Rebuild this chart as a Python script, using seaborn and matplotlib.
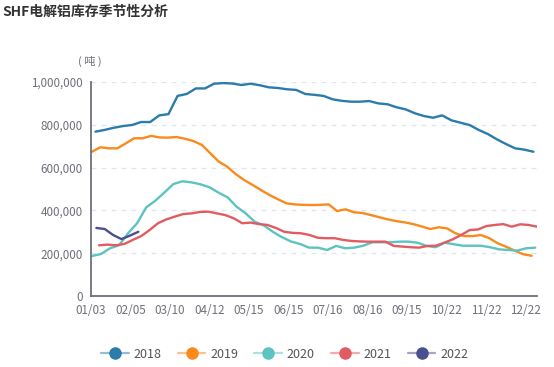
import numpy as np
import pandas as pd
import seaborn as sns
import matplotlib.pyplot as plt
from matplotlib.lines import Line2D
from matplotlib.ticker import FuncFormatter

# SHF aluminium stock, weekly, in thousand tonnes
years = ['2018', '2019', '2020', '2021', '2022']
colors = ['#2b7bab', '#f98a1d', '#5cc3c1', '#e15c60', '#4a4f8e']
date_labels = ['01/03', '02/05', '03/10', '04/12', '05/15', '06/15',
               '07/16', '08/16', '09/15', '10/22', '11/22', '12/22']

s2018 = [768, 776, 786, 794, 799, 813, 813, 844, 850, 935, 944, 970, 970, 992,
         995, 993, 986, 992, 985, 975, 972, 966, 963, 944, 940, 935, 919, 912,
         908, 908, 911, 900, 896, 882, 872, 854, 841, 833, 844, 821, 810, 799,
         776, 757, 732, 710, 690, 684, 674]
s2019 = [674, 695, 690, 690, 713, 737, 737, 748, 741, 740, 743, 735, 724, 706,
         667, 628, 604, 570, 542, 519, 495, 472, 452, 433, 428, 426, 425, 426,
         428, 397, 405, 391, 388, 378, 368, 358, 350, 344, 336, 325, 313, 321,
         316, 293, 280, 280, 285, 270, 246, 230, 212, 195, 188]
s2020 = [187, 196, 223, 237, 293, 340, 414, 445, 483, 523, 536, 531, 522, 508,
         483, 461, 417, 386, 347, 330, 300, 275, 255, 243, 226, 226, 215, 234,
         223, 226, 235, 251, 251, 251, 254, 254, 249, 234, 228, 249, 242, 235,
         235, 235, 228, 218, 215, 212, 223, 226]
s2021 = [237, 240, 237, 243, 262, 280, 308, 340, 358, 371, 383, 386, 393, 394,
         386, 378, 363, 340, 343, 336, 332, 318, 300, 295, 293, 285, 272, 270,
         270, 262, 257, 255, 254, 254, 254, 234, 231, 228, 226, 234, 235, 249,
         265, 285, 308, 311, 327, 332, 336, 324, 335, 332, 324]
s2022 = [318, 313, 285, 266, 282, 300]

# first and last week of each series on the shared week axis
span_2018 = (0.5, 49.6)
span_2019 = (0.1, 49.4)
span_2020 = (0.1, 49.8)
span_2021 = (0.9, 50.0)
span_2022 = (0.6, 5.3)

series = [s2018, s2019, s2020, s2021, s2022]
spans = [span_2018, span_2019, span_2020, span_2021, span_2022]

frames = []
for yr, vals, (a, b) in zip(years, series, spans):
    frames.append(pd.DataFrame({'week': np.linspace(a, b, len(vals)),
                                'stock': np.array(vals) * 1000,
                                'year': yr}))
df = pd.concat(frames, ignore_index=True)

sns.set_theme(style='white')
plt.rcParams['font.family'] = ['Noto Sans CJK SC', 'DejaVu Sans']

fig = plt.figure(figsize=(5.54, 3.67), dpi=100)
ax = fig.add_axes([91 / 554, 1 - 296 / 367, 446 / 554, 214 / 367])

sns.lineplot(data=df, x='week', y='stock', hue='year',
             palette=dict(zip(years, colors)), estimator=None,
             linewidth=1.7, legend=False, ax=ax)

ax.set_xlim(0, 50)
ax.set_ylim(0, 1_000_000)
ax.set_yticks(range(0, 1_000_001, 200_000))
ax.yaxis.set_major_formatter(FuncFormatter(lambda v, p: f'{int(v):,}'))
ax.set_xticks(np.arange(len(date_labels)) * 4.428, date_labels)
ax.set_xticks([50], minor=True)
ax.set_xlabel('')
ax.set_ylabel('')

ax.yaxis.grid(True, linestyle=(0, (4, 4)), color='#e0e6f1', linewidth=0.9)
ax.xaxis.grid(False)
for side in ['top', 'right']:
    ax.spines[side].set_visible(False)
for side in ['left', 'bottom']:
    ax.spines[side].set_color('#6e7079')
    ax.spines[side].set_linewidth(1.3)
ax.tick_params(axis='both', which='both', colors='#6e7079', labelsize=8.4,
               length=4, width=1, direction='out', pad=2)

fig.text(0.004, 1 - 12 / 367, 'SHF电解铝库存季节性分析', fontsize=10,
         fontweight='bold', color='#333333', va='center', ha='left')
fig.text(90 / 554, 1 - 61 / 367, '( 吨 )', fontsize=8, color='#6e7079',
         va='center', ha='center')

handles = []
for c in colors:
    ln = Line2D([0], [0], color=c, lw=1.6, alpha=0.5)
    mk = Line2D([0], [0], color=c, marker='o', markersize=8, lw=0)
    handles.append((ln, mk))
fig.legend(handles, years, loc='center', bbox_to_anchor=(0.514, 1 - 354 / 367),
           ncol=5, frameon=False, fontsize=9, handlelength=2.2,
           columnspacing=1.3, handletextpad=0.4, labelcolor='#555555')

fig.savefig('out.png', dpi=100)
